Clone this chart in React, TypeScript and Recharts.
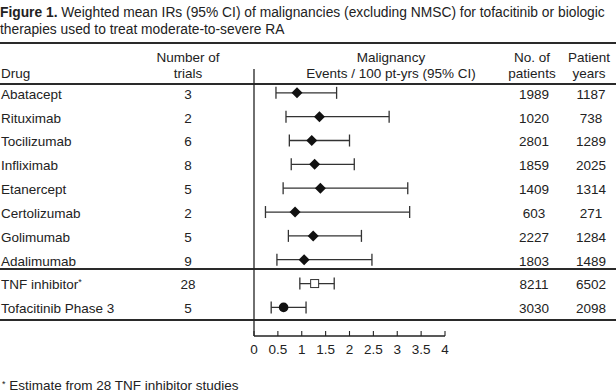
import { ScatterChart, Scatter, XAxis, YAxis, ErrorBar } from 'recharts'

const drugs = [
  'Abatacept',
  'Rituximab',
  'Tocilizumab',
  'Infliximab',
  'Etanercept',
  'Certolizumab',
  'Golimumab',
  'Adalimumab',
  'TNF inhibitor',
  'Tofacitinib Phase 3'
]
const trials = [3, 2, 6, 8, 5, 2, 5, 9, 28, 5]
const patients = [1989, 1020, 2801, 1859, 1409, 603, 2227, 1803, 8211, 3030]
const ptYears = [1187, 738, 1289, 2025, 1314, 271, 1284, 1489, 6502, 2098]
const rate = [0.9, 1.37, 1.21, 1.27, 1.39, 0.86, 1.24, 1.05, 1.27, 0.62]
const ciLow = [0.46, 0.67, 0.74, 0.78, 0.61, 0.24, 0.72, 0.48, 0.96, 0.36]
const ciHigh = [1.73, 2.83, 2.0, 2.1, 3.22, 3.26, 2.25, 2.47, 1.68, 1.09]
const xTicks = [0, 0.5, 1, 1.5, 2, 2.5, 3, 3.5, 4]

const rows = drugs.map((drug, i) => ({
  row: i,
  drug,
  rate: rate[i],
  ci: [rate[i] - ciLow[i], ciHigh[i] - rate[i]]
}))
const biologics = rows.slice(0, 8)
const tnf = rows.slice(8, 9)
const tofa = rows.slice(9)

const FONT = '"Liberation Sans", Arial, Helvetica, sans-serif'
const INK = '#222'
const FS = 13.5

const Diamond = (p: any) => (
  <path
    d={`M${p.cx},${p.cy - 5.5}L${p.cx + 5.5},${p.cy}L${p.cx},${p.cy + 5.5}L${p.cx - 5.5},${p.cy}Z`}
    fill="#111"
  />
)
const OpenSquare = (p: any) => (
  <rect x={p.cx - 4} y={p.cy - 4} width={8} height={8} fill="#fff" stroke="#333" strokeWidth={1} />
)
const Dot = (p: any) => <circle cx={p.cx} cy={p.cy} r={4.8} fill="#111" />

// table columns hang off the y axis ticks
const RowTick = (props: any) => {
  const { y, payload } = props
  const i = payload.value
  const isTnf = i === 8
  return (
    <g fontFamily={FONT} fontSize={FS} fill={INK}>
      <text x={1} y={y + 1} dy="0.36em" textAnchor="start">
        {drugs[i]}
        {isTnf && (
          <tspan fontSize={9} dy={-4}>
            *
          </tspan>
        )}
      </text>
      <text x={188} y={y + 1} dy="0.36em" textAnchor="middle">{trials[i]}</text>
      <text x={534} y={y + 1} dy="0.36em" textAnchor="middle">{patients[i]}</text>
      <text x={591} y={y + 1} dy="0.36em" textAnchor="middle">{ptYears[i]}</text>
    </g>
  )
}

const rule = (top: number, h = 2) => (
  <div style={{ position: 'absolute', left: 0, top, width: 616, height: h, background: '#2a2a2a' }} />
)

const head = (text: string, x: number, top: number) => (
  <div
    style={{
      position: 'absolute',
      left: x - 100,
      top,
      width: 200,
      textAlign: 'center',
      whiteSpace: 'nowrap'
    }}
  >
    {text}
  </div>
)

export default function App() {
  return (
    <div
      style={{
        position: 'absolute',
        left: 0,
        top: 0,
        width: 616,
        height: 392,
        background: '#fff',
        fontFamily: FONT,
        fontSize: FS,
        color: INK,
        lineHeight: '16px',
        overflow: 'hidden'
      }}
    >
      <div style={{ position: 'absolute', left: 0, top: 4, width: 616, fontSize: 13.8, lineHeight: '17px' }}>
        <b>Figure 1.</b> Weighted mean IRs (95% CI) of malignancies (excluding NMSC) for tofacitinib or biologic
        <br />
        therapies used to treat moderate-to-severe RA
      </div>

      {rule(42)}
      {rule(83)}
      {rule(268)}
      {rule(319)}

      <div style={{ position: 'absolute', left: 1, top: 66 }}>Drug</div>
      {head('Number of', 188, 50)}
      {head('trials', 188, 66)}
      {head('Malignancy', 391, 50)}
      {head('Events / 100 pt-yrs (95% CI)', 391, 66)}
      {head('No. of', 532, 50)}
      {head('patients', 532, 66)}
      {head('Patient', 589, 50)}
      {head('years', 589, 66)}

      <div style={{ position: 'absolute', left: 2, top: 376 }}>
        <span style={{ fontSize: 9, verticalAlign: 3 }}>*</span> Estimate from 28 TNF inhibitor studies
      </div>

      <div style={{ position: 'absolute', left: 0, top: 0 }}>
        <ScatterChart width={616} height={392} margin={{ top: 69, right: 171, bottom: 26, left: 194 }}>
          <XAxis
            type="number"
            dataKey="rate"
            domain={[0, 4]}
            ticks={xTicks}
            interval={0}
            allowDataOverflow
            height={30}
            tickSize={-5}
            tickMargin={13}
            axisLine={{ stroke: INK, strokeWidth: 1.3 }}
            tickLine={{ stroke: INK, strokeWidth: 1.1 }}
            tick={{ fontSize: FS, fill: INK, fontFamily: FONT }}
          />
          <YAxis
            type="number"
            dataKey="row"
            domain={[-1, 10.2]}
            reversed
            allowDataOverflow
            ticks={rows.map((r) => r.row)}
            interval={0}
            width={60}
            tickLine={false}
            axisLine={{ stroke: INK, strokeWidth: 1.3 }}
            tick={<RowTick />}
          />
          <Scatter data={biologics} shape={<Diamond />} isAnimationActive={false}>
            <ErrorBar dataKey="ci" direction="x" width={6} stroke="#333" strokeWidth={1.3} />
          </Scatter>
          <Scatter data={tnf} shape={<OpenSquare />} isAnimationActive={false}>
            <ErrorBar dataKey="ci" direction="x" width={6} stroke="#333" strokeWidth={1.3} />
          </Scatter>
          <Scatter data={tofa} shape={<Dot />} isAnimationActive={false}>
            <ErrorBar dataKey="ci" direction="x" width={6} stroke="#333" strokeWidth={1.3} />
          </Scatter>
        </ScatterChart>
      </div>
    </div>
  )
}
